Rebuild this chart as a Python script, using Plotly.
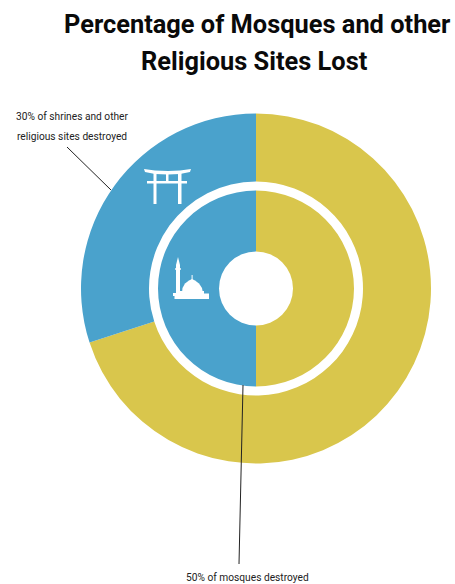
import plotly.graph_objects as go

W, H = 455, 584

# Share of sites, in percent; the destroyed part ends at twelve o'clock
slice_names = ["Remaining", "Destroyed"]
shrines_values = [70, 30]
mosques_values = [50, 50]
slice_colors = ["#D9C64C", "#4AA2CC"]

title_lines = ["Percentage of Mosques and other", "Religious Sites Lost"]
shrines_label = ["30% of shrines and other", "religious sites destroyed"]
mosques_label = "50% of mosques destroyed"

CX, CY = 256, 288.5
R_OUTER, R_GAP, R_INNER, R_HOLE = 175, 107, 98, 37


def fx(x):
    return x / W


def fy(y):
    return 1 - y / H


def domain(r):
    return dict(x=[fx(CX - r), fx(CX + r)], y=[fy(CY + r), fy(CY - r)])


def path(points):
    body = " L ".join(f"{fx(x):.5f},{fy(y):.5f}" for x, y in points)
    return f"M {body} Z"


def white_poly(points):
    return dict(type="path", xref="paper", yref="paper", path=path(points),
                fillcolor="white", line=dict(width=0), layer="above")


def leader(x0, y0, x1, y1):
    return dict(type="line", xref="paper", yref="paper", x0=fx(x0), y0=fy(y0),
                x1=fx(x1), y1=fy(y1), line=dict(color="#222222", width=1), layer="above")


def rect(x0, y0, x1, y1):
    return white_poly([(x0, y0), (x1, y0), (x1, y1), (x0, y1)])


# Torii gate glyph
torii = [
    white_poly([(144, 169), (155, 170.5), (168, 171), (180, 170.5), (191, 169),
                (190, 172), (180, 174), (168, 174.5), (155, 174), (145, 172)]),
    rect(147, 181, 187, 183.5),
    rect(153.5, 173, 156.5, 204),
    rect(178, 173, 181.5, 204),
    rect(166, 174, 168.5, 182),
]

# Mosque glyph
dome = [(182, 293), (182.5, 288), (185, 283.5), (189, 280.5), (192, 279),
        (195, 280.5), (199, 283.5), (202, 288), (203, 293)]
mosque = [
    white_poly(dome),
    rect(191.6, 275, 192.6, 280),
    rect(176, 265, 180, 294),
    white_poly([(176, 265), (177, 261), (178, 257), (179, 261), (180, 265)]),
    rect(175.3, 268, 180.7, 270),
    rect(180, 291, 204, 294),
    rect(174.5, 293.5, 209, 299),
    rect(173, 293, 176, 296),
]

fig = go.Figure()
fig.add_trace(go.Pie(labels=slice_names, values=shrines_values, domain=domain(R_OUTER),
                     hole=R_GAP / R_OUTER, sort=False, direction="clockwise", rotation=0,
                     marker=dict(colors=slice_colors, line=dict(width=0)),
                     textinfo="none", hoverinfo="label+percent", showlegend=False))
fig.add_trace(go.Pie(labels=slice_names, values=mosques_values, domain=domain(R_INNER),
                     hole=R_HOLE / R_INNER, sort=False, direction="clockwise", rotation=0,
                     marker=dict(colors=slice_colors, line=dict(width=0)),
                     textinfo="none", hoverinfo="label+percent", showlegend=False))


def text(s, x, y, size, family, color, anchor="center"):
    return dict(text=s, xref="paper", yref="paper", x=fx(x), y=fy(y), showarrow=False,
                xanchor=anchor, yanchor="middle", font=dict(size=size, family=family, color=color))


HEAD = "Roboto"
annotations = [
    text(f"<b>{title_lines[0]}</b>", 256.5, 24, 25.4, HEAD, "#0A0A0A"),
    text(f"<b>{title_lines[1]}</b>", 254, 61, 25.4, HEAD, "#0A0A0A"),
    text(shrines_label[0], 72, 117, 10.2, HEAD, "#222222"),
    text(shrines_label[1], 72, 136, 10.2, HEAD, "#222222"),
    text(mosques_label, 247.5, 577, 10.2, HEAD, "#222222"),
]

fig.update_layout(
    width=W, height=H, margin=dict(l=0, r=0, t=0, b=0),
    paper_bgcolor="white", plot_bgcolor="white",
    annotations=annotations,
    shapes=torii + mosque + [leader(67, 147, 111, 190), leader(243, 385, 239, 564)],
)
fig.write_html("out.html", config=dict(displayModeBar=False))
